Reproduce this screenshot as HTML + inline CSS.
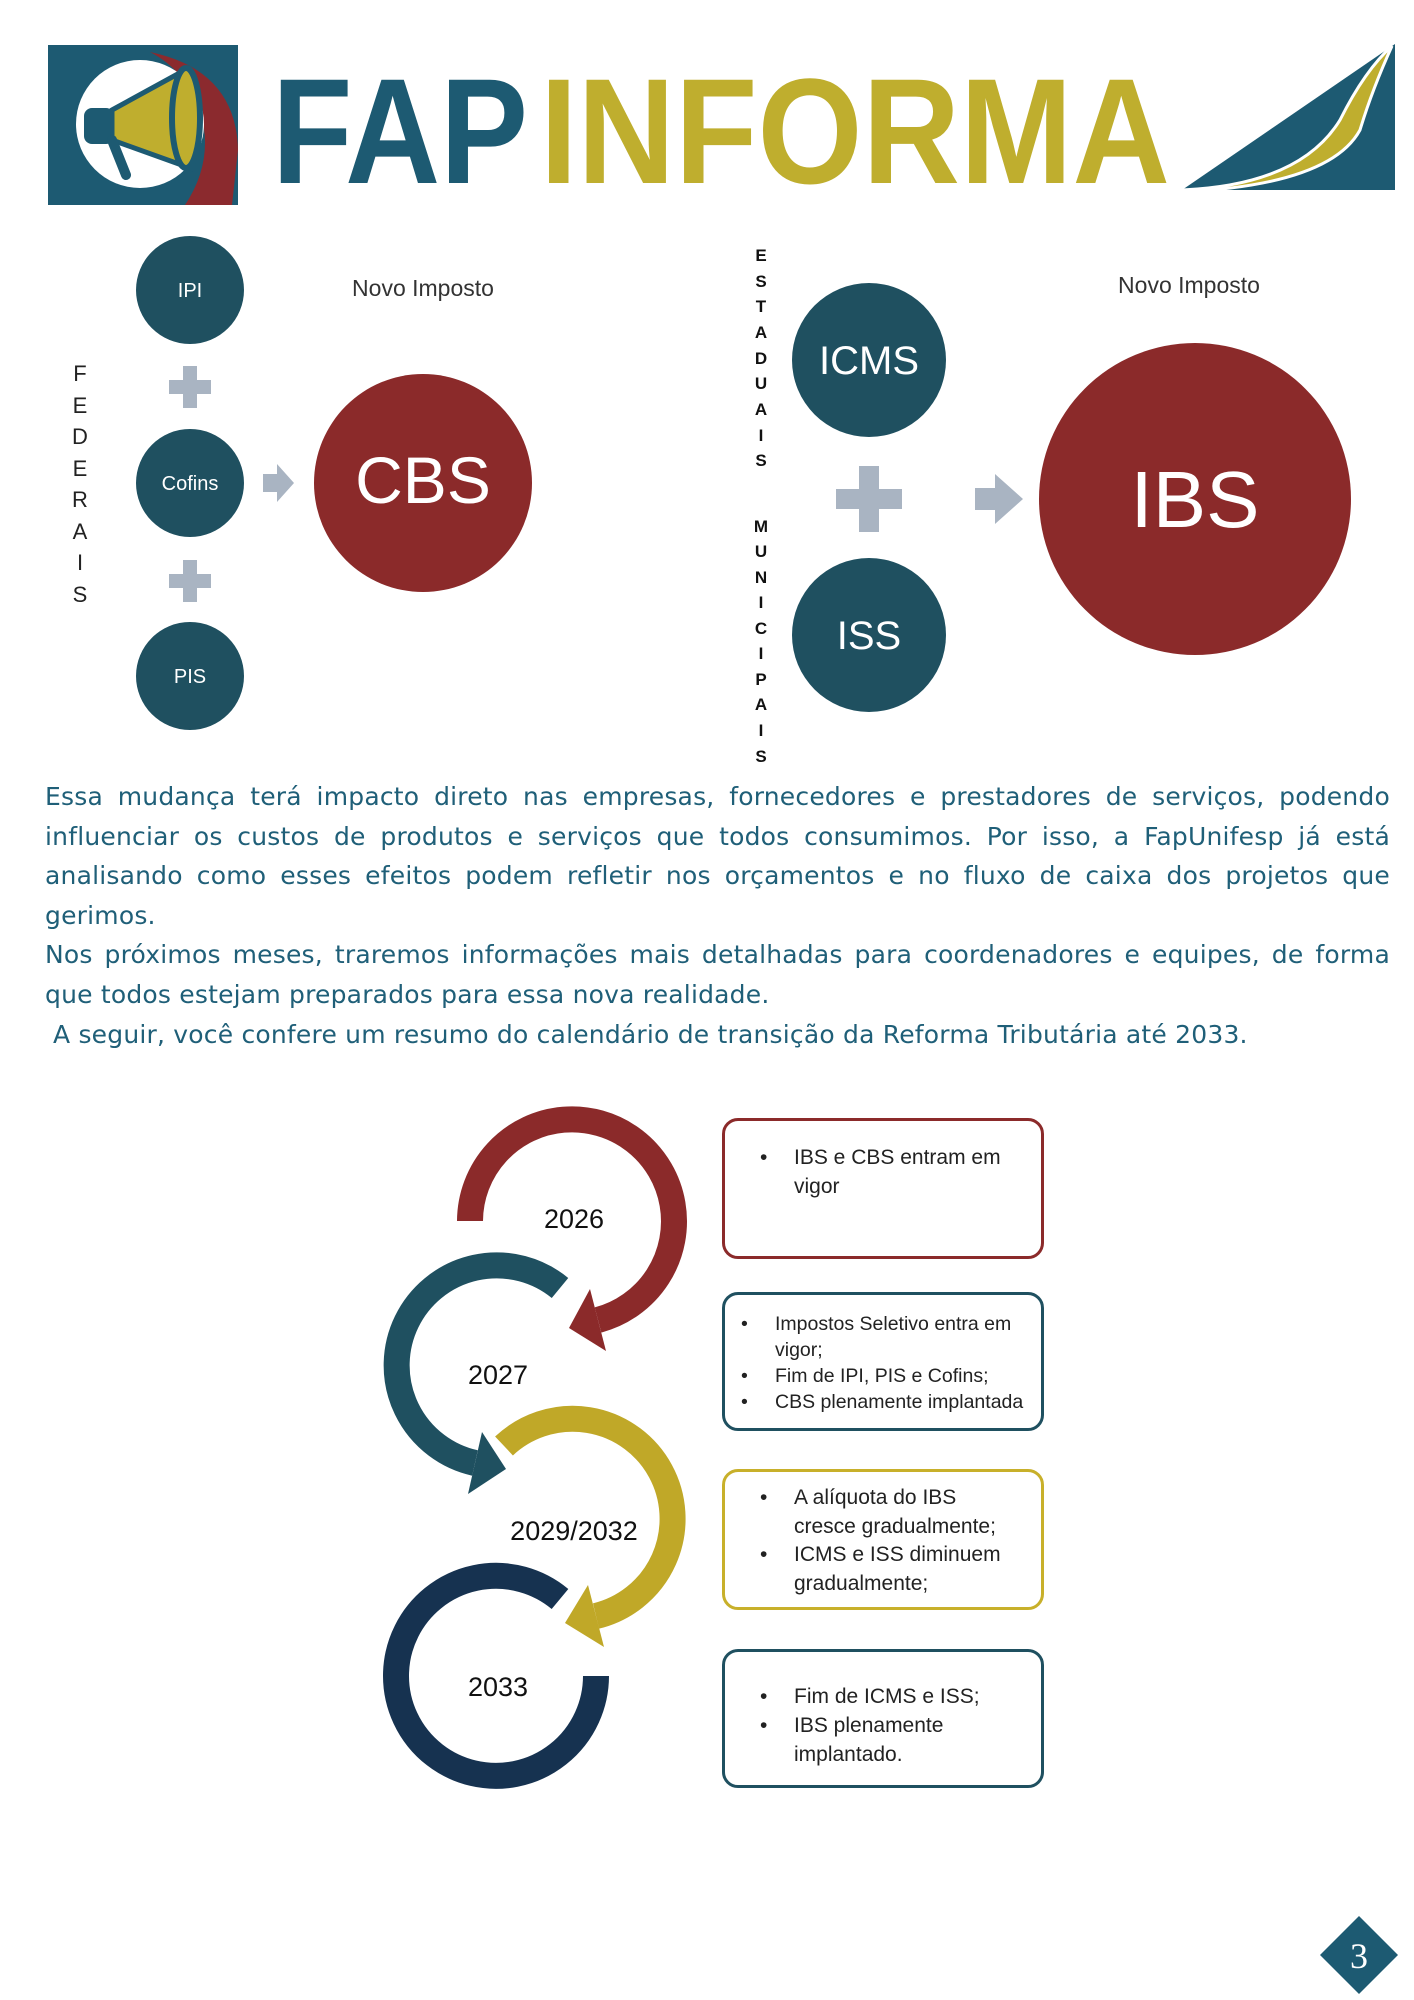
<!DOCTYPE html>
<html><head><meta charset="utf-8">
<style>
html,body{margin:0;padding:0;background:#fff;}
body{width:1414px;height:2000px;position:relative;overflow:hidden;font-family:"Liberation Sans",sans-serif;}
svg{position:absolute;left:0;top:0;}
.para{position:absolute;left:45px;top:777px;width:1345px;font-size:25px;line-height:39.6px;color:#1f5f78;text-align:justify;font-family:"DejaVu Sans","Liberation Sans",sans-serif;letter-spacing:0.2px;}
.para p{margin:0;}
.box{position:absolute;left:722px;width:322px;border:3px solid;border-radius:16px;font-size:21px;color:#222;box-sizing:border-box;}
.box ul{margin:0;padding:0;list-style:none;}
.box li{position:relative;padding-left:0;}
.box li:before{content:"•";position:absolute;left:-34px;}
</style></head><body>
<svg width="1414" height="2000" viewBox="0 0 1414 2000" font-family="Liberation Sans, sans-serif">
<rect x="48" y="45" width="190" height="160" fill="#1d5a72"/>
<path d="M150 52 Q236 70 238 150 L232 205 L185 205 Q215 160 200 110 Q185 70 150 52Z" fill="#8b2a2e"/>
<circle cx="140" cy="124" r="64" fill="#fff"/>
<path d="M112 110 L185 70 L190 168 L112 140Z" fill="#bfae2e" stroke="#1d5a72" stroke-width="5"/>
<ellipse cx="186" cy="118" rx="14" ry="50" fill="#bfae2e" stroke="#1d5a72" stroke-width="6"/>
<rect x="84" y="108" width="30" height="36" rx="8" fill="#1d5a72"/>
<path d="M112 140 L126 175" stroke="#1d5a72" stroke-width="10" stroke-linecap="round"/>
<text x="272" y="183" font-size="150" font-weight="bold" fill="#1d5a72" textLength="256" lengthAdjust="spacingAndGlyphs">FAP</text>
<text x="540" y="183" font-size="150" font-weight="bold" fill="#bfae2e" textLength="630" lengthAdjust="spacingAndGlyphs">INFORMA</text>
<path d="M1182 190 L1395 44 L1395 190Z" fill="#1d5a72"/>
<path d="M1182 190 Q1300 185 1340 120 Q1365 70 1392 46 Q1372 90 1360 130 Q1330 185 1182 192Z" fill="#bfae2e" stroke="#fff" stroke-width="3"/>

<g font-size="22" fill="#222" text-anchor="middle">
<text x="80" y="381">F</text><text x="80" y="413">E</text><text x="80" y="444">D</text><text x="80" y="476">E</text><text x="80" y="507">R</text><text x="80" y="539">A</text><text x="80" y="570">I</text><text x="80" y="602">S</text>
</g>
<circle cx="190" cy="290" r="54" fill="#1f5060"/>
<circle cx="190" cy="483" r="54" fill="#1f5060"/>
<circle cx="190" cy="676" r="54" fill="#1f5060"/>
<g font-size="20" fill="#fff" text-anchor="middle"><text x="190" y="297">IPI</text><text x="190" y="490">Cofins</text><text x="190" y="683">PIS</text></g>
<path d="M183 366h14v14h14v14h-14v14h-14v-14h-14v-14h14z" fill="#a9b4c2"/>
<path d="M183 560h14v14h14v14h-14v14h-14v-14h-14v-14h14z" fill="#a9b4c2"/>
<path d="M263 474h14v-10l17 19-17 19v-10h-14z" fill="#a9b4c2"/>
<circle cx="423" cy="483" r="109" fill="#8b2a2a"/>
<text x="423" y="503" font-size="66" fill="#fff" text-anchor="middle">CBS</text>
<text x="423" y="296" font-size="23" fill="#333" text-anchor="middle">Novo Imposto</text>

<g font-size="17" font-weight="bold" fill="#111" text-anchor="middle">
<text x="761" y="261">E</text><text x="761" y="287">S</text><text x="761" y="312">T</text><text x="761" y="338">A</text><text x="761" y="364">D</text><text x="761" y="389">U</text><text x="761" y="415">A</text><text x="761" y="441">I</text><text x="761" y="466">S</text>
<text x="761" y="532">M</text><text x="761" y="557">U</text><text x="761" y="583">N</text><text x="761" y="608">I</text><text x="761" y="634">C</text><text x="761" y="659">I</text><text x="761" y="685">P</text><text x="761" y="710">A</text><text x="761" y="736">I</text><text x="761" y="762">S</text>
</g>
<circle cx="869" cy="360" r="77" fill="#1f5060"/>
<circle cx="869" cy="635" r="77" fill="#1f5060"/>
<g font-size="40" fill="#fff" text-anchor="middle"><text x="869" y="374">ICMS</text><text x="869" y="649">ISS</text></g>
<path d="M859 466h20v23h23v20h-23v23h-20v-23h-23v-20h23z" fill="#a9b4c2"/>
<path d="M975 488h20v-14l28 25-28 25v-14h-20z" fill="#a9b4c2"/>
<circle cx="1195" cy="499" r="156" fill="#8b2a2a"/>
<text x="1195" y="527" font-size="80" fill="#fff" text-anchor="middle">IBS</text>
<text x="1189" y="293" font-size="23" fill="#333" text-anchor="middle">Novo Imposto</text>

<g transform="translate(-2,-12)">
<path d="M472 1233 A102 102 0 1 1 600 1332" fill="none" stroke="#8b2a2a" stroke-width="26"/>
<path d="M608 1363 L592 1301 L571 1340Z" fill="#8b2a2a"/>
<path d="M562 1300 A100 100 0 1 0 477 1475" fill="none" stroke="#1f5060" stroke-width="26"/>
<path d="M470 1506 L484 1444 L508 1481Z" fill="#1f5060"/>
<path d="M506 1458 A100 100 0 1 1 598 1628" fill="none" stroke="#c0a828" stroke-width="26"/>
<path d="M606 1659 L590 1597 L567 1635Z" fill="#c0a828"/>
<path d="M598 1688 A100 100 0 1 1 562 1611" fill="none" stroke="#163250" stroke-width="26"/>
<g font-size="27" fill="#111" text-anchor="middle">
<text x="576" y="1240">2026</text><text x="500" y="1396">2027</text><text x="576" y="1552">2029/2032</text><text x="500" y="1708">2033</text>
</g>
</g>
<path d="M1359 1916 L1398 1955 L1359 1994 L1320 1955Z" fill="#1d5a72"/>
<text x="1359" y="1968" font-size="36" fill="#fff" text-anchor="middle" font-family="Liberation Serif, serif">3</text>
</svg>

<div class="para">
<p>Essa mudança terá impacto direto nas empresas, fornecedores e prestadores de serviços, podendo influenciar os custos de produtos e serviços que todos consumimos. Por isso, a FapUnifesp já está analisando como esses efeitos podem refletir nos orçamentos e no fluxo de caixa dos projetos que gerimos.</p>
<p>Nos próximos meses, traremos informações mais detalhadas para coordenadores e equipes, de forma que todos estejam preparados para essa nova realidade.</p>
<p style="padding-left:8px;text-align:left">A seguir, você confere um resumo do calendário de transição da Reforma Tributária até 2033.</p>
</div>

<div class="box" style="top:1118px;height:141px;border-color:#8b2a2a;padding:22px 10px 0 69px;line-height:29px;"><ul><li>IBS e CBS entram em vigor</li></ul></div>
<div class="box" style="top:1292px;height:139px;border-color:#1f5060;padding:16px 0 0 50px;line-height:26px;font-size:19.5px;white-space:nowrap;"><ul><li>Impostos Seletivo entra em<br>vigor;</li><li>Fim de IPI, PIS e Cofins;</li><li>CBS plenamente implantada</li></ul></div>
<div class="box" style="top:1469px;height:141px;border-color:#c8b02a;padding:12px 0 0 69px;line-height:28.5px;"><ul><li>A alíquota do IBS<br>cresce gradualmente;</li><li>ICMS e ISS diminuem<br>gradualmente;</li></ul></div>
<div class="box" style="top:1649px;height:139px;border-color:#1f5060;padding:30px 0 0 69px;line-height:29px;"><ul><li>Fim de ICMS e ISS;</li><li>IBS plenamente<br>implantado.</li></ul></div>
</body></html>
